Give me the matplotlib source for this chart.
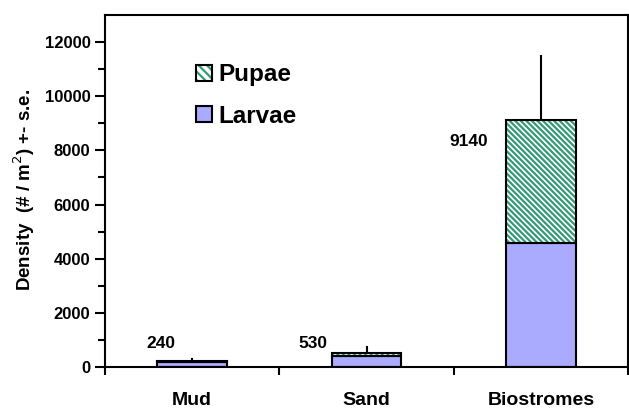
import matplotlib
matplotlib.use("Agg")
import matplotlib.pyplot as plt
from matplotlib.patches import Patch
import numpy as np

plt.rcParams['font.family'] = ['Liberation Sans', 'DejaVu Sans']
plt.rcParams['hatch.linewidth'] = 1.6

categories = ["Mud", "Sand", "Biostromes"]
larvae = [200, 400, 4590]
pupae = [40, 130, 4550]
totals = [240, 530, 9140]
se_upper = [300, 750, 11480]
total_labels = ["240", "530", "9140"]

fig = plt.figure(figsize=(6.29, 4.08), dpi=100)
ax = fig.add_axes([105/629, 1-367/408, (628-105)/629, (367-15)/408])

x = np.arange(len(categories))
w = 0.4
larv_color = '#aaaaff'
pup_color = '#339977'
hatch = '\\\\\\\\\\\\'
ax.bar(x, larvae, width=w, color=larv_color, edgecolor='black', linewidth=1.5, zorder=2)
ax.bar(x, pupae, width=w, bottom=larvae, color='white', edgecolor=pup_color, hatch=hatch, linewidth=0, zorder=2)
ax.bar(x, pupae, width=w, bottom=larvae, fill=False, edgecolor='black', linewidth=1.5, zorder=3)
for xi, t, e in zip(x, totals, se_upper):
    ax.plot([xi, xi], [t, e], color='black', lw=1.5, zorder=1)

offsets = [(-0.18, 610), (-0.31, 320), (-0.414, -807)]
for xi, t, lab, (dx, dy) in zip(x, totals, total_labels, offsets):
    ax.text(xi + dx, t + dy, lab, ha='center', va='center', fontsize=12.5, fontweight='bold')

ax.set_xlim(-0.5, 2.5)
ax.set_ylim(0, 13000)
ax.set_yticks(np.arange(0, 12001, 2000))
ax.set_yticks(np.arange(1000, 13000, 2000), minor=True)
ax.set_xticks([-0.5, 0.5, 1.5, 2.5])
ax.set_xticklabels([])
ax.tick_params(axis='x', direction='out', length=6, width=1.5)
ax.tick_params(axis='y', which='major', direction='out', length=7, width=1.5, labelsize=12)
ax.tick_params(axis='y', which='minor', direction='out', length=5, width=1.5)
for lbl in ax.get_yticklabels():
    lbl.set_fontweight('bold')
for xi, c in zip(x, categories):
    ax.text(xi, -0.094, c, transform=ax.get_xaxis_transform(), ha='center', va='center', fontsize=14, fontweight='bold')
for s in ax.spines.values():
    s.set_linewidth(1.5)

fig.text(24/629, 1-190/408, 'Density  (# / m$^2$) +- s.e.', rotation=90, ha='center', va='center',
         fontsize=13.5, fontweight='bold')

pup_h = (Patch(facecolor='white', edgecolor=pup_color, hatch='\\\\\\\\', linewidth=0),
         Patch(fill=False, edgecolor='black', linewidth=1.5))
larv_h = Patch(facecolor=larv_color, edgecolor='black', linewidth=1.5)
leg = ax.legend([pup_h, larv_h], ['Pupae', 'Larvae'], loc='upper left', bbox_to_anchor=(0.133, 0.925), frameon=False,
                prop={'size': 17.5, 'weight': 'bold'}, handlelength=0.62, handleheight=0.62, handletextpad=0.3,
                labelspacing=0.75)

fig.savefig('out.png', dpi=100)
